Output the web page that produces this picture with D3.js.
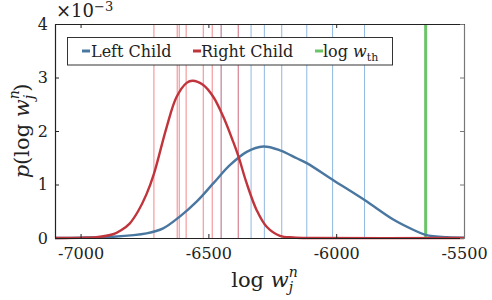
<!DOCTYPE html>
<html lang="en">
<head>
<meta charset="UTF-8">
<title>Left / Right child densities</title>
<script src="https://d3js.org/d3.v7.min.js"></script>
<style>
    body { margin: 0; background: #fff; }
    svg text { font-family: "DejaVu Serif", serif; fill: #222; }
</style>
</head>
<body>
<div id="chart"></div>
<script>
// density curves (x = log w, y in units of 1e-3)
const leftX  = [-7100, -7004, -6873, -6742, -6677, -6612, -6546, -6481, -6416, -6350, -6285, -6220, -6154, -6115, -6011, -5889, -5775, -5697, -5651, -5566, -5500];
const leftY  = [0, 0.006, 0.024, 0.087, 0.18, 0.40, 0.68, 1.02, 1.36, 1.61, 1.71, 1.64, 1.49, 1.40, 1.08, 0.71, 0.34, 0.15, 0.06, 0.013, 0.006];
const rightX = [-7100, -7004, -6938, -6873, -6840, -6808, -6775, -6742, -6713, -6664, -6625, -6585, -6562, -6520, -6481, -6442, -6403, -6382, -6350, -6311, -6272, -6220, -6168, -6100, -5500];
const rightY = [0, 0.003, 0.015, 0.07, 0.15, 0.27, 0.50, 0.82, 1.20, 2.06, 2.63, 2.90, 2.94, 2.86, 2.64, 2.27, 1.80, 1.52, 1.02, 0.52, 0.21, 0.04, 0.01, 0, 0];

// sample positions (thin vertical lines)
const leftSamples  = [-6450, -6383, -6333, -6281, -6213, -6115, -6014, -5889];
const rightSamples = [-6713, -6622, -6614, -6587, -6520, -6485, -6450, -6383];
const threshold = -5650;

const xTicks = [-7000, -6500, -6000, -5500];
const yTicks = [0, 1, 2, 3, 4];
const legendLabels = ["Left Child", "Right Child"];

const W = 492, H = 300;
const margin = { top: 24, right: 28, bottom: 62, left: 55 };
const iw = W - margin.left - margin.right;
const ih = H - margin.top - margin.bottom;

const blue = "#4a77a0", red = "#c0343c", green = "#6cc46a";
const serif = "DejaVu Serif";

const svg = d3.select("#chart").append("svg")
    .attr("width", W).attr("height", H)
    .attr("font-family", serif);
const g = svg.append("g").attr("transform", `translate(${margin.left},${margin.top})`);

const x = d3.scaleLinear().domain([-7100, -5500]).range([0, iw]);
const y = d3.scaleLinear().domain([0, 4]).range([ih, 0]);

// sample lines
g.selectAll(".ls").data(leftSamples).enter().append("line")
    .attr("x1", d => x(d)).attr("x2", d => x(d))
    .attr("y1", 0).attr("y2", ih)
    .attr("stroke", "#8fb8e0").attr("stroke-width", 1);
g.selectAll(".rs").data(rightSamples).enter().append("line")
    .attr("x1", d => x(d)).attr("x2", d => x(d))
    .attr("y1", 0).attr("y2", ih)
    .attr("stroke", "#f07a7e").attr("stroke-width", 1).attr("stroke-opacity", 0.9);

// threshold
g.append("line")
    .attr("x1", x(threshold)).attr("x2", x(threshold))
    .attr("y1", 0).attr("y2", ih)
    .attr("stroke", green).attr("stroke-width", 3);

// curves
const line = d3.line().x(d => x(d[0])).y(d => y(d[1])).curve(d3.curveCatmullRom.alpha(0.5));
g.append("path").datum(d3.zip(leftX, leftY))
    .attr("d", line).attr("fill", "none").attr("stroke", blue).attr("stroke-width", 2.4);
g.append("path").datum(d3.zip(rightX, rightY))
    .attr("d", line).attr("fill", "none").attr("stroke", red).attr("stroke-width", 2.4);

// axes (ticks pointing inward)
const xb = g.append("g").attr("transform", `translate(0,${ih})`)
    .call(d3.axisBottom(x).tickValues(xTicks).tickSizeInner(-4).tickSizeOuter(0).tickPadding(10).tickFormat(d => d.toString()));
const xt = g.append("g")
    .call(d3.axisTop(x).tickValues(xTicks).tickSizeInner(-4).tickSizeOuter(0).tickFormat(""));
const yl = g.append("g")
    .call(d3.axisLeft(y).tickValues(yTicks).tickSizeInner(-4).tickSizeOuter(0).tickPadding(7).tickFormat(d3.format("d")));
const yr = g.append("g").attr("transform", `translate(${iw},0)`)
    .call(d3.axisRight(y).tickValues(yTicks).tickSizeInner(-4).tickSizeOuter(0).tickFormat(""));
[xb, xt, yl, yr].forEach(a => {
    a.attr("font-family", serif);
    a.select(".domain").attr("stroke", "#222").attr("stroke-width", 1.2);
    a.selectAll(".tick line").attr("stroke", "#222");
    a.selectAll("text").attr("font-size", 16).attr("fill", "#222");
});
yr.select(".domain").attr("stroke", "#777");
yr.selectAll(".tick line").attr("stroke", "#777");

// x10^-3 multiplier
const mult = svg.append("text").attr("x", 56).attr("y", 17).attr("font-size", 18);
mult.append("tspan").text("\u00d710");
mult.append("tspan").attr("dy", -6).attr("font-size", 13).text("\u22123");

// axis labels
const xl = svg.append("text").attr("x", margin.left + iw / 2 + 5).attr("y", 287)
    .attr("text-anchor", "middle").attr("font-size", 21);
xl.append("tspan").text("log ");
xl.append("tspan").attr("font-style", "italic").text("w");
xl.append("tspan").attr("font-style", "italic").attr("font-size", 14).attr("dy", -10).text("n");
xl.append("tspan").attr("font-style", "italic").attr("font-size", 14).attr("dx", -9).attr("dy", 15).text("j");

const ylab = svg.append("text")
    .attr("transform", `translate(29,${margin.top + ih / 2}) rotate(-90)`)
    .attr("text-anchor", "middle").attr("font-size", 21);
ylab.append("tspan").attr("font-style", "italic").text("p");
ylab.append("tspan").text("(log ");
ylab.append("tspan").attr("font-style", "italic").text("w");
ylab.append("tspan").attr("font-style", "italic").attr("font-size", 14).attr("dy", -10).text("n");
ylab.append("tspan").attr("font-style", "italic").attr("font-size", 14).attr("dx", -9).attr("dy", 15).text("j");
ylab.append("tspan").attr("dx", 3).attr("dy", -5).text(")");

// legend
const lg = svg.append("g");
lg.append("rect").attr("x", 67.5).attr("y", 37.5).attr("width", 325).attr("height", 27.5)
    .attr("fill", "#fff").attr("stroke", "#333").attr("stroke-width", 1);
const entries = [
    { c: blue, x: 82 }, { c: red, x: 193 }, { c: green, x: 315 }
];
entries.forEach(e => {
    lg.append("line").attr("x1", e.x).attr("x2", e.x + 8).attr("y1", 51).attr("y2", 51)
        .attr("stroke", e.c).attr("stroke-width", 3);
});
lg.append("text").attr("x", 91).attr("y", 56.5).attr("font-size", 16).text(legendLabels[0]);
lg.append("text").attr("x", 201).attr("y", 56.5).attr("font-size", 16).text(legendLabels[1]);
const lt = lg.append("text").attr("x", 323).attr("y", 56.5).attr("font-size", 16);
lt.append("tspan").text("log ");
lt.append("tspan").attr("font-style", "italic").text("w");
lt.append("tspan").attr("font-size", 11).attr("dy", 4).text("th");
</script>
</body>
</html>
